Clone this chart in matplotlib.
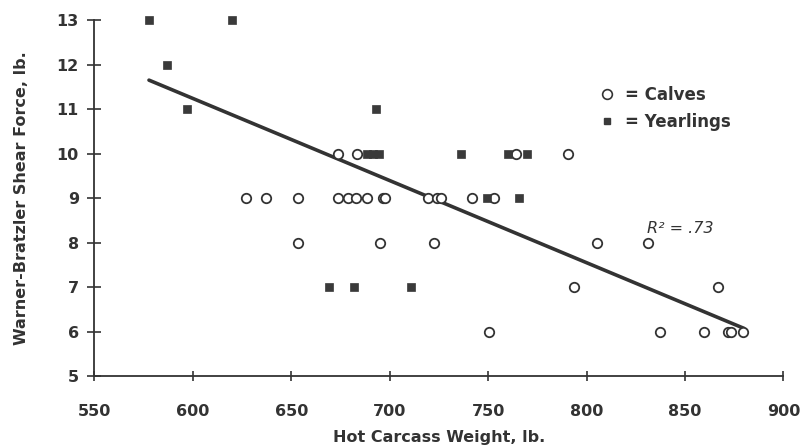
import matplotlib
matplotlib.use("Agg")
import matplotlib.pyplot as plt
from matplotlib.lines import Line2D

# ---- data ----
calves_x = [673.7, 683.5, 764.0, 790.4,
            626.8, 637.0, 653.3, 673.7, 678.7, 682.9, 688.6, 696.4, 697.6,
            719.3, 723.9, 726.2, 741.7, 752.8,
            653.3, 694.9, 722.5, 805.2, 831.4,
            793.8, 866.7,
            750.5, 837.5, 859.9, 871.7, 873.3, 879.7]
calves_y = [10, 10, 10, 10,
            9, 9, 9, 9, 9, 9, 9, 9, 9,
            9, 9, 9, 9, 9,
            8, 8, 8, 8, 8,
            7, 7,
            6, 6, 6, 6, 6, 6]

yearlings_x = [577.7, 619.7,
               586.8,
               597.2, 692.9,
               688.3, 691.5, 694.7, 736.2, 760.3, 769.6,
               749.3, 765.5,
               669.2, 682.0, 710.7]
yearlings_y = [13, 13,
               12,
               11, 11,
               10, 10, 10, 10, 10, 10,
               9, 9,
               7, 7, 7]

fit_x = [577.7, 880.0]
fit_y = [11.65, 6.08]

x_ticks = [550, 600, 650, 700, 750, 800, 850, 900]
y_ticks = [5, 6, 7, 8, 9, 10, 11, 12, 13]

r2_text = "R² = .73"
x_label = "Hot Carcass Weight, lb."
y_label = "Warner-Bratzler Shear Force, lb."

# ---- figure ----
dark = "#333333"
plt.rcParams["font.family"] = ["DejaVu Sans"]

fig = plt.figure(figsize=(8.04, 4.48), dpi=100)
ax = fig.add_axes([0.1175, 0.1596, 0.8568, 0.7958])

ax.plot(fit_x, fit_y, color=dark, lw=2.6, solid_capstyle="round", zorder=2)
ax.plot(calves_x, calves_y, linestyle="none", marker="o", ms=6.8,
        mfc="white", mec=dark, mew=1.3, clip_on=False, zorder=3)
ax.plot(yearlings_x, yearlings_y, linestyle="none", marker="s", ms=5.8,
        mfc="#3a3a3a", mec="#3a3a3a", mew=0.5, clip_on=False, zorder=4)

ax.set_xlim(550, 900)
ax.set_ylim(5, 13)
ax.set_xticks(x_ticks)
ax.set_yticks(y_ticks)

for s in ["top", "right"]:
    ax.spines[s].set_visible(False)
for s in ["left", "bottom"]:
    ax.spines[s].set_color(dark)
    ax.spines[s].set_linewidth(1.3)

ax.tick_params(axis="x", direction="inout", length=7.5, width=1.2,
               color=dark, pad=16, labelsize=11.5, labelcolor=dark)
ax.tick_params(axis="y", direction="inout", length=10.5, width=1.2,
               color=dark, pad=6, labelsize=11.5, labelcolor=dark)
for lab in ax.get_xticklabels() + ax.get_yticklabels():
    lab.set_fontweight("bold")

ax.set_xlabel(x_label, fontsize=11.5, fontweight="bold", color=dark, labelpad=8)
ax.set_ylabel(y_label, fontsize=11.5, fontweight="bold", color=dark, labelpad=20)

ax.text(830.6, 8.33, r2_text, fontsize=11.5, fontstyle="italic", color=dark,
        ha="left", va="center")

handles = [
    Line2D([], [], linestyle="none", marker="o", ms=7, mfc="white", mec=dark, mew=1.2),
    Line2D([], [], linestyle="none", marker="s", ms=4, mfc="#3a3a3a", mec="#3a3a3a"),
]
leg = ax.legend(handles, ["= Calves", "= Yearlings"], loc="upper left",
                bbox_to_anchor=(0.732, 0.815), frameon=False, borderpad=0,
                borderaxespad=0, handlelength=1.0, handletextpad=0.6,
                labelspacing=0.55, prop={"size": 12, "weight": "bold"})
for t in leg.get_texts():
    t.set_color(dark)

fig.savefig("out.png", dpi=100)
